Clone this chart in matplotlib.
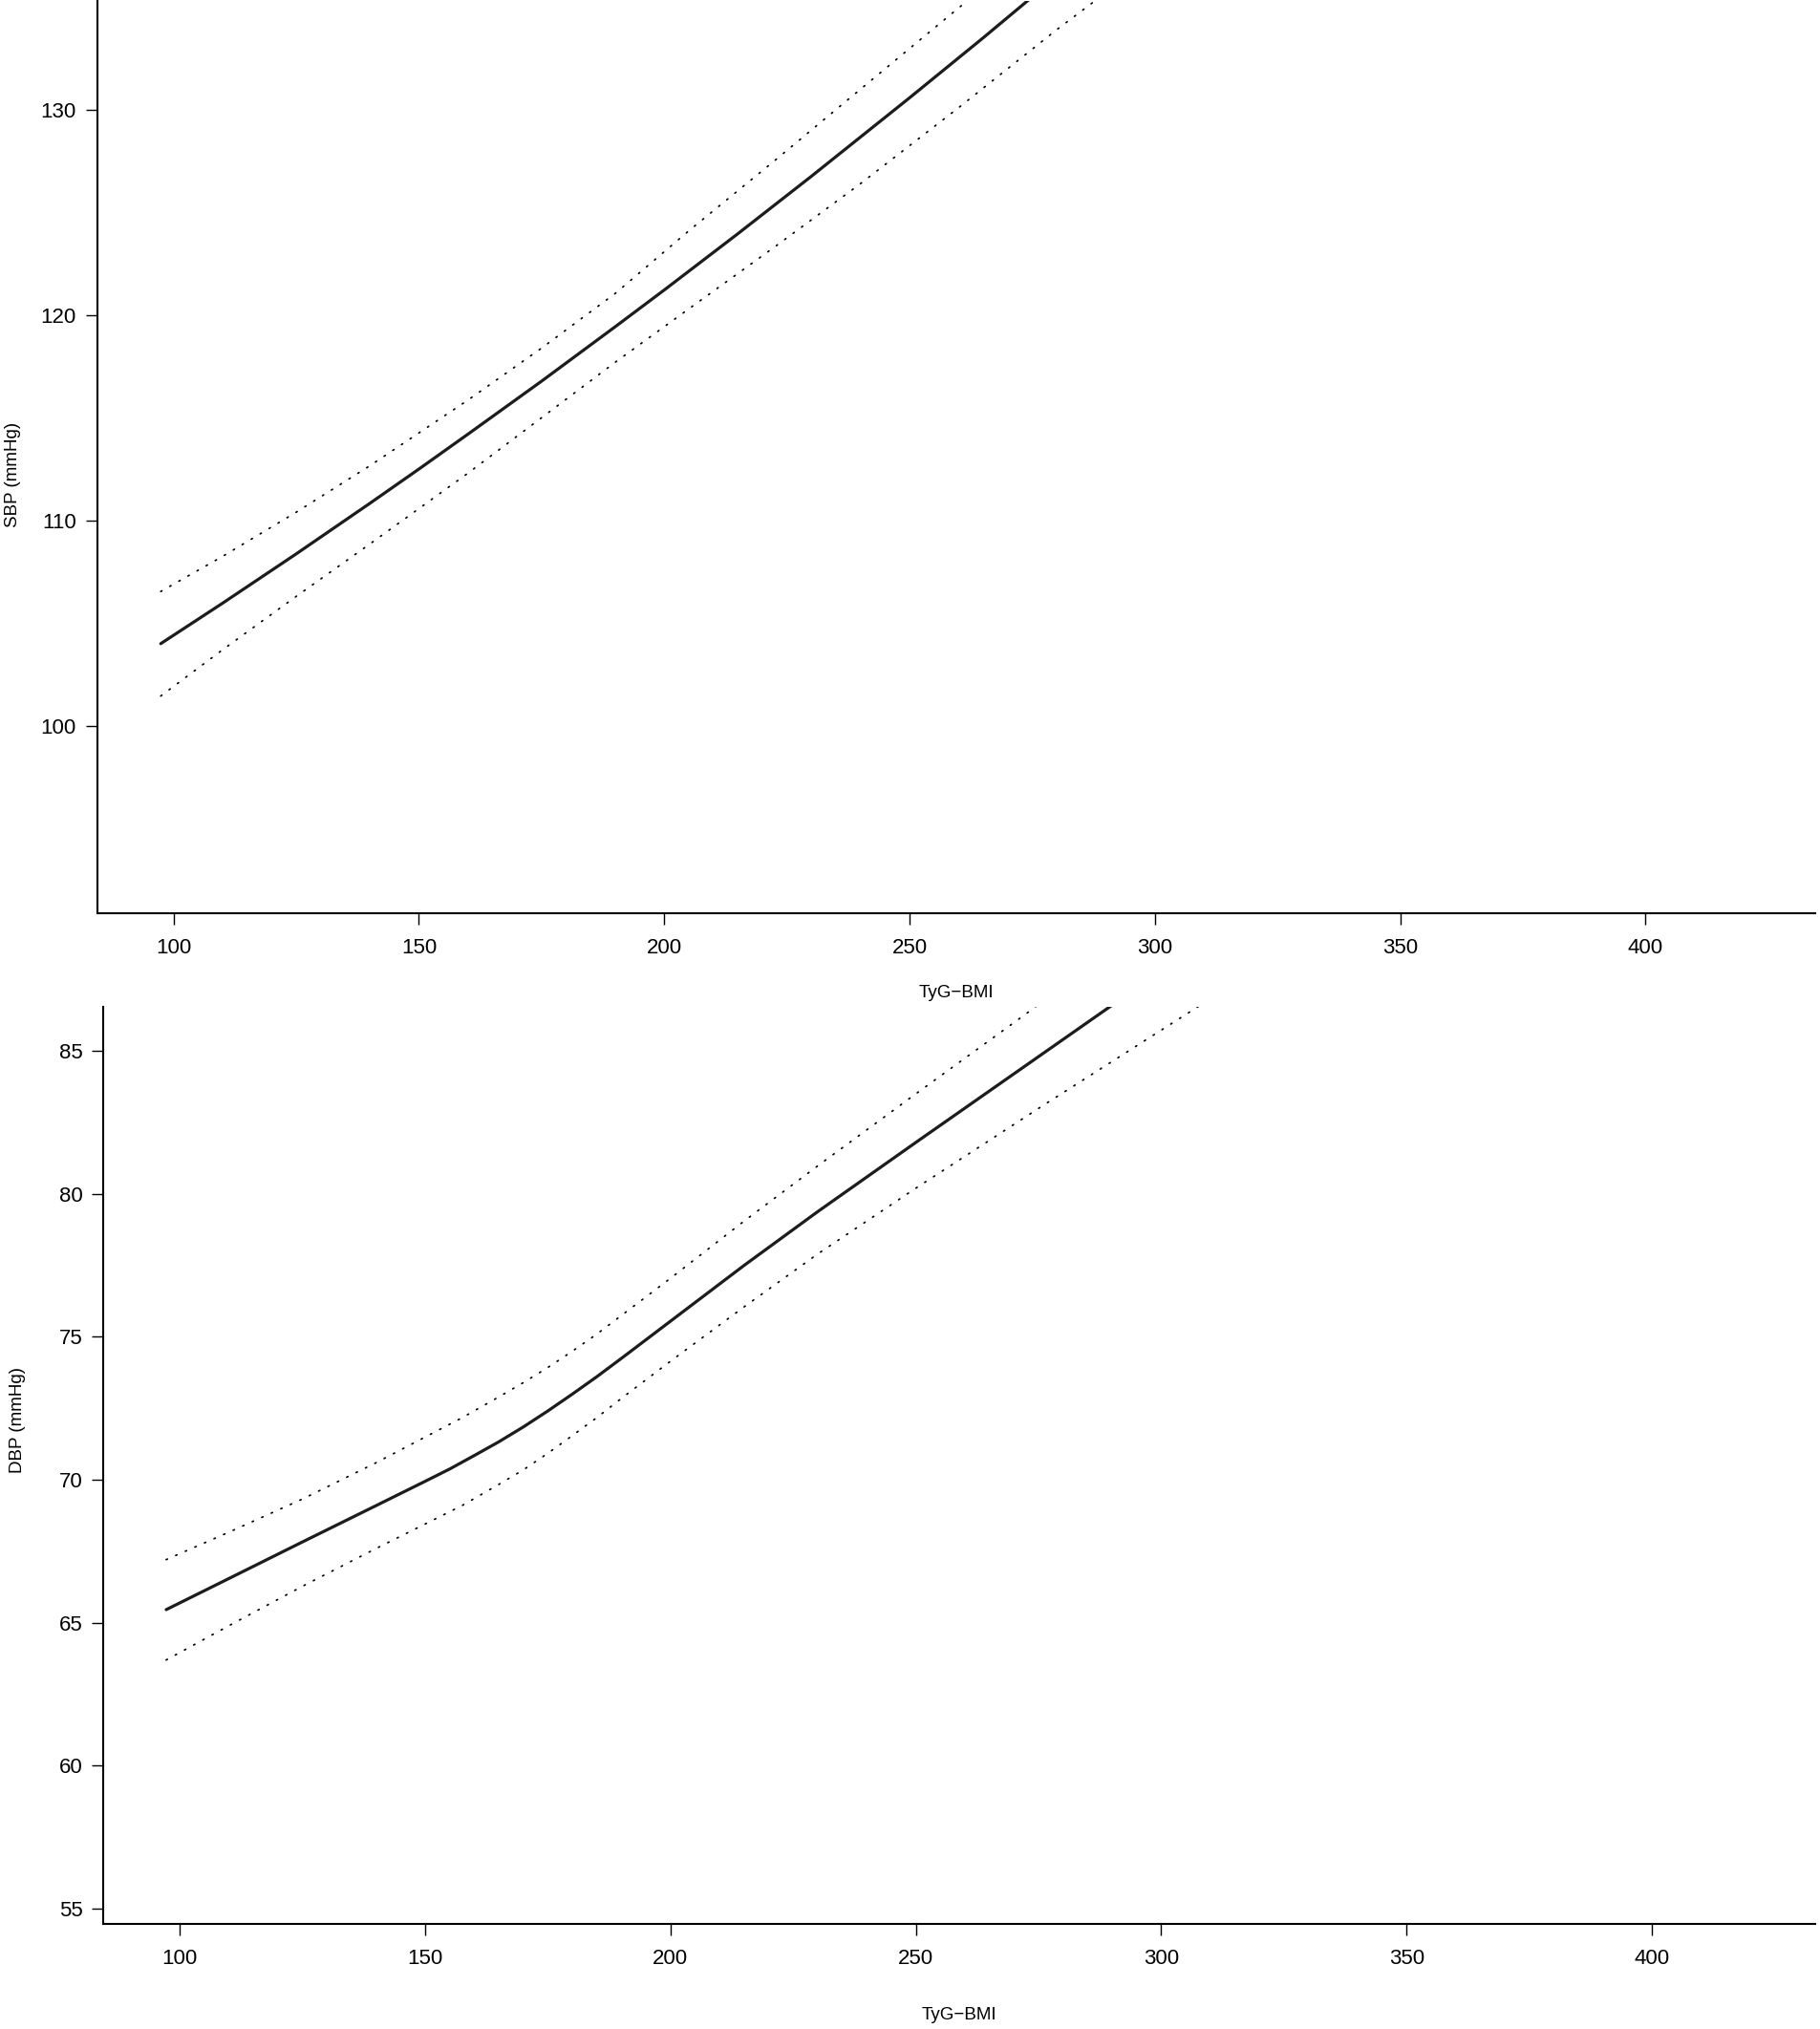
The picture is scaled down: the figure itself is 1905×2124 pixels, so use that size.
import matplotlib
matplotlib.use("Agg")
import matplotlib.pyplot as plt

plt.rcParams['font.family'] = ['Liberation Sans', 'DejaVu Sans']

# ---- SBP panel (top) ----
sbp_x = [97.4, 110, 125, 140, 150, 160, 175, 190, 200, 215, 230, 250, 265, 280]
sbp_fit = [104.0, 105.97, 108.37, 110.83, 112.5, 114.2, 116.78, 119.43, 121.22, 123.96,
           126.76, 130.58, 133.5, 136.49]
sbp_up_x = [97.4, 110, 125, 140, 160, 175, 190, 205, 222.4, 240, 259.7, 270]
sbp_upper = [106.54, 108.25, 110.4, 112.66, 115.86, 118.39, 121.05, 124.1, 127.5, 131.0,
             134.9, 136.9]
sbp_lo_x = [97.4, 110, 125, 140, 160, 175, 190, 205, 222.4, 240, 260, 280, 295]
sbp_lower = [101.45, 103.7, 106.3, 108.85, 112.3, 115.0, 117.7, 120.3, 123.3, 126.4,
             130.1, 133.9, 136.6]

# ---- DBP panel (bottom) ----
dbp_x = [97.2, 110, 125, 140, 150, 155, 160, 165, 170, 175, 180, 185, 190, 200, 215, 230,
         250, 270, 290, 295]
dbp_fit = [65.46, 66.55, 67.83, 69.1, 69.95, 70.38, 70.85, 71.33, 71.85, 72.41, 73.0, 73.61,
           74.25, 75.55, 77.5, 79.38, 81.8, 84.2, 86.6, 87.2]
dbp_up_x = [97.2, 110, 125, 140, 157.5, 165, 170, 175, 180, 185, 190, 200, 215, 230, 250,
            272, 285]
dbp_upper = [67.21, 68.17, 69.33, 70.6, 72.17, 72.9, 73.4, 73.93, 74.5, 75.1, 75.75, 77.05,
             79.05, 80.98, 83.5, 86.24, 87.9]
dbp_lo_x = [97.2, 110, 125, 140, 157.5, 165, 170, 175, 180, 185, 190, 200, 215, 230, 250,
            276, 308, 315]
dbp_lower = [63.7, 64.9, 66.28, 67.6, 69.1, 69.84, 70.35, 70.93, 71.55, 72.18, 72.85, 74.15,
             76.05, 77.9, 80.2, 83.1, 86.6, 87.35]

x_ticks = [100, 150, 200, 250, 300, 350, 400]
sbp_yticks = [100, 110, 120, 130]
dbp_yticks = [55, 60, 65, 70, 75, 80, 85]
x_label = "TyG\u2212BMI"
sbp_label = "SBP (mmHg)"
dbp_label = "DBP (mmHg)"

W, H = 1905, 2124
fig = plt.figure(figsize=(W / 100, H / 100), dpi=100)

def frac_rect(l, r, t, b):
    return [l / W, 1 - b / H, (r - l) / W, (b - t) / H]

ax1 = fig.add_axes(frac_rect(101.6, 1900, 1, 956))
ax2 = fig.add_axes(frac_rect(108, 1900, 1054, 2014))

line_col = '#1c1c1c'
dot_style = (0, (0.8, 5.5))

def style(ax, xlim, ylim, yticks, ylabel, ylab_coords, xlab_coords):
    ax.set_xlim(*xlim)
    ax.set_ylim(*ylim)
    ax.set_xticks(x_ticks)
    ax.set_yticks(yticks)
    for s in ['top', 'right']:
        ax.spines[s].set_visible(False)
    for s in ['left', 'bottom']:
        ax.spines[s].set_linewidth(1.5)
        ax.spines[s].set_color('black')
    ax.tick_params(axis='both', length=8.6, width=1.0, labelsize=16, colors='black')
    ax.tick_params(axis='x', pad=10)
    ax.tick_params(axis='y', pad=7)
    ax.set_xlabel(x_label, fontsize=13.5)
    ax.xaxis.set_label_coords(*xlab_coords)
    ax.xaxis.label.set_va('center')
    ax.set_ylabel(ylabel, fontsize=13.5)
    ax.yaxis.set_label_coords(*ylab_coords)
    ax.yaxis.label.set_va('center')

ax1.plot(sbp_x, sbp_fit, color=line_col, lw=2.3, solid_capstyle='round')
ax1.plot(sbp_up_x, sbp_upper, color='black', lw=1.25, linestyle=dot_style, dash_capstyle='round')
ax1.plot(sbp_lo_x, sbp_lower, color='black', lw=1.25, linestyle=dot_style, dash_capstyle='round')
style(ax1, (84.42, 434.6), (90.87, 135.3), sbp_yticks, sbp_label,
      (-0.049, 0.481), (0.5, -0.087))

ax2.plot(dbp_x, dbp_fit, color=line_col, lw=2.3, solid_capstyle='round')
ax2.plot(dbp_up_x, dbp_upper, color='black', lw=1.25, linestyle=dot_style, dash_capstyle='round')
ax2.plot(dbp_lo_x, dbp_lower, color='black', lw=1.25, linestyle=dot_style, dash_capstyle='round')
style(ax2, (84.36, 433.3), (54.47, 86.54), dbp_yticks, dbp_label,
      (-0.0497, 0.549), (0.5, -0.099))

fig.savefig("out.png", dpi=100, facecolor='white')
